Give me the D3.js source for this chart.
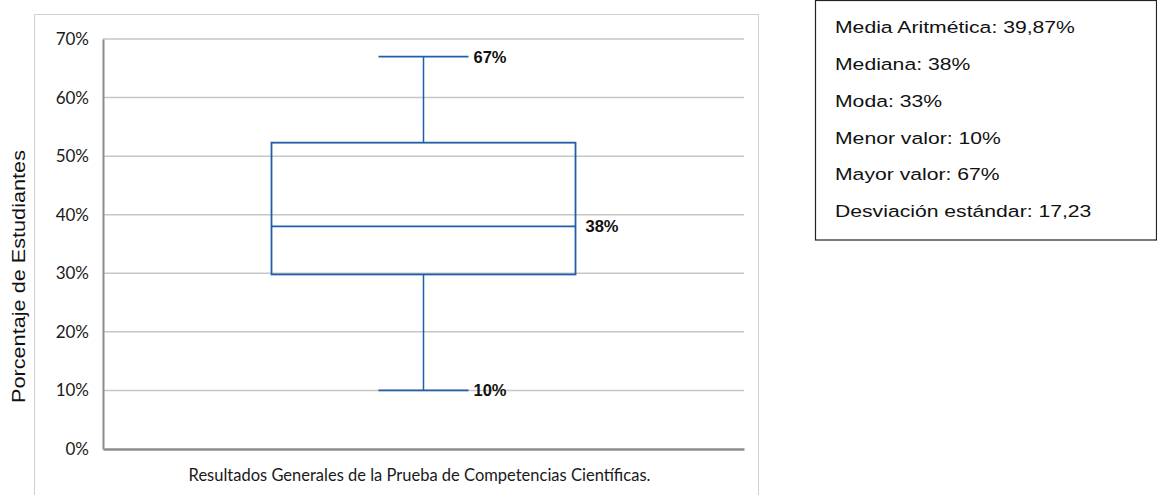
<!DOCTYPE html>
<html>
<head>
<meta charset="utf-8">
<script src="https://cdn.jsdelivr.net/npm/d3@7"></script>
<style>
  html, body { margin: 0; padding: 0; background: #fff; }
  svg { display: block; }
</style>
</head>
<body>
<svg id="chart" width="1157" height="495"></svg>
<script>
// Box plot summary (percent of students)
const category = "Resultados Generales de la Prueba de Competencias Científicas.";
const boxMin = 10;
const boxQ1 = 29.8;
const boxMedian = 38;
const boxQ3 = 52.3;
const boxMax = 67;
const valueLabels = [
  { key: "max", value: boxMax, text: "67%" },
  { key: "median", value: boxMedian, text: "38%" },
  { key: "min", value: boxMin, text: "10%" }
];
const yTicks = [0, 10, 20, 30, 40, 50, 60, 70];
const statLines = [
  "Media Aritmética: 39,87%",
  "Mediana: 38%",
  "Moda: 33%",
  "Menor valor: 10%",
  "Mayor valor: 67%",
  "Desviación estándar: 17,23"
];

const svg = d3.select("#chart");
const blue = "#1f5ea8";

// outer chart frame
svg.append("rect")
  .attr("x", 34.5).attr("y", 14.5)
  .attr("width", 724).attr("height", 500)
  .attr("fill", "none").attr("stroke", "#d0d0d0").attr("stroke-width", 1);

const plot = { left: 103, right: 744, top: 39, bottom: 449 };

const y = d3.scaleLinear().domain([0, 70]).range([plot.bottom, plot.top]);
const x = d3.scaleBand().domain([category]).range([plot.left, plot.right]);

// gridlines
svg.append("g")
  .selectAll("line")
  .data(yTicks.filter(d => d > 0))
  .join("line")
  .attr("x1", plot.left).attr("x2", plot.right)
  .attr("y1", d => y(d)).attr("y2", d => y(d))
  .attr("stroke", "#c6c6c6").attr("stroke-width", 1.5);

// y axis
const yAxis = svg.append("g")
  .attr("transform", `translate(${plot.left},0)`)
  .call(d3.axisLeft(y).tickValues(yTicks).tickFormat(d => d + "%").tickSize(0).tickPadding(14));
yAxis.select(".domain").attr("stroke", "#8c8c8c").attr("stroke-width", 2);
yAxis.selectAll("text")
  .attr("font-family", "Lato, 'Open Sans', sans-serif")
  .attr("font-size", 17)
  .attr("fill", "#1a1a1a");

// x axis
const xAxis = svg.append("g")
  .attr("transform", `translate(0,${plot.bottom})`)
  .call(d3.axisBottom(x).tickSize(0).tickPadding(20));
xAxis.select(".domain").attr("stroke", "#8c8c8c").attr("stroke-width", 2.5);
xAxis.selectAll("text")
  .attr("dx", -4)
  .attr("font-family", "Lato, 'Open Sans', sans-serif")
  .attr("font-size", 16.5)
  .attr("fill", "#1a1a1a");

// y axis title
svg.append("text")
  .attr("transform", "translate(25,276.5) rotate(-90)")
  .attr("text-anchor", "middle")
  .attr("font-family", "'Liberation Sans', Arial, sans-serif")
  .attr("font-size", 18)
  .attr("textLength", 253)
  .attr("lengthAdjust", "spacingAndGlyphs")
  .attr("fill", "#111")
  .text("Porcentaje de Estudiantes");

// box plot
const cx = x(category) + x.bandwidth() / 2;
const boxHalf = 152;
const capHalf = 45;
const g = svg.append("g").attr("fill", "none").attr("stroke", blue);

g.append("line")
  .attr("x1", cx).attr("x2", cx)
  .attr("y1", y(boxMax)).attr("y2", y(boxQ3))
  .attr("stroke-width", 1.5);
g.append("line")
  .attr("x1", cx).attr("x2", cx)
  .attr("y1", y(boxQ1)).attr("y2", y(boxMin))
  .attr("stroke-width", 1.5);
g.selectAll("line.cap")
  .data([boxMax, boxMin])
  .join("line")
  .attr("class", "cap")
  .attr("x1", cx - capHalf).attr("x2", cx + capHalf)
  .attr("y1", d => y(d)).attr("y2", d => y(d))
  .attr("stroke-width", 1.8);
g.append("rect")
  .attr("x", cx - boxHalf).attr("width", boxHalf * 2)
  .attr("y", y(boxQ3)).attr("height", y(boxQ1) - y(boxQ3))
  .attr("stroke-width", 1.8);
g.append("line")
  .attr("x1", cx - boxHalf).attr("x2", cx + boxHalf)
  .attr("y1", y(boxMedian)).attr("y2", y(boxMedian))
  .attr("stroke-width", 1.8);

// value labels
svg.append("g")
  .selectAll("text")
  .data(valueLabels)
  .join("text")
  .attr("x", d => d.key === "median" ? cx + boxHalf + 10 : cx + capHalf + 5)
  .attr("y", d => y(d.value))
  .attr("dy", "0.36em")
  .attr("font-family", "'Liberation Sans Narrow', 'Arial Narrow', 'Liberation Sans', sans-serif")
  .attr("font-weight", "bold")
  .attr("font-size", 16.5)
  .attr("fill", "#111")
  .text(d => d.text);

// statistics panel
svg.append("rect")
  .attr("x", 815.5).attr("y", 0.5)
  .attr("width", 640).attr("height", 239.5)
  .attr("fill", "#fff").attr("stroke", "#222").attr("stroke-width", 1.2);
svg.append("line")
  .attr("x1", 1156.5).attr("x2", 1156.5).attr("y1", 0).attr("y2", 240)
  .attr("stroke", "#222").attr("stroke-width", 1.2);

const statX = 835;
svg.append("g")
  .attr("transform", `translate(${statX},0) scale(1.245,1)`)
  .selectAll("text")
  .data(statLines)
  .join("text")
  .attr("x", 0)
  .attr("y", (d, i) => 27 + i * 36.8)
  .attr("dy", "0.36em")
  .attr("font-family", "'Liberation Sans', Arial, sans-serif")
  .attr("font-size", 17)
  .attr("fill", "#111")
  .text(d => d);
</script>
</body>
</html>
